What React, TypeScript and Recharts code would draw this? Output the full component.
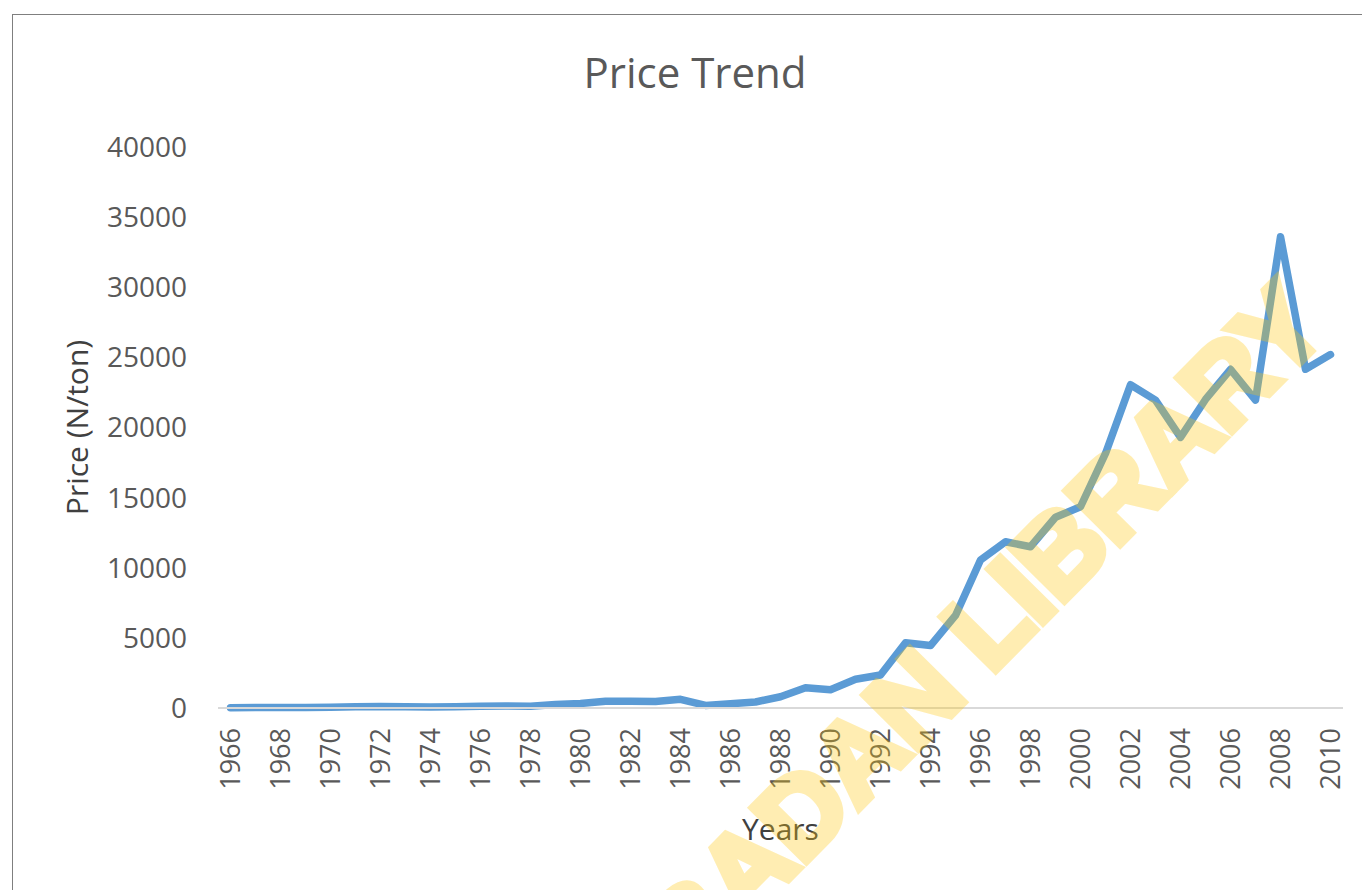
import { LineChart, Line, XAxis, YAxis } from "recharts";

const years = [
  1966, 1967, 1968, 1969, 1970, 1971, 1972, 1973, 1974, 1975, 1976, 1977, 1978,
  1979, 1980, 1981, 1982, 1983, 1984, 1985, 1986, 1987, 1988, 1989, 1990, 1991,
  1992, 1993, 1994, 1995, 1996, 1997, 1998, 1999, 2000, 2001, 2002, 2003, 2004,
  2005, 2006, 2007, 2008, 2009, 2010,
];

const prices = [
  20, 30, 30, 40, 50, 90, 110, 90, 80, 90, 130, 140, 130, 250, 320, 480, 490,
  470, 620, 180, 300, 430, 800, 1450, 1300, 2050, 2350, 4650, 4450, 6600, 10550,
  11850, 11500, 13600, 14350, 18150, 23050, 21950, 19300, 22000, 24150, 21950,
  33600, 24150, 25200,
];

const yTicks = [0, 5000, 10000, 15000, 20000, 25000, 30000, 35000, 40000];

const data = years.map((year, i) => ({ year, price: prices[i] }));

const font = "'Open Sans', sans-serif";

const YearTick = ({ x, y, payload }: any) => (
  <text
    x={x}
    y={y}
    transform={`rotate(-90, ${x}, ${y})`}
    textAnchor="end"
    dy="0.36em"
    fill="#595959"
    fontSize={27}
    fontFamily={font}
  >
    {payload.value}
  </text>
);

// axis title drawn centred on the plot height
const PriceLabel = ({ viewBox }: any) => {
  const cx = 77;
  const cy = viewBox.y + viewBox.height / 2;
  return (
    <text
      x={cx}
      y={cy}
      transform={`rotate(-90, ${cx}, ${cy})`}
      textAnchor="middle"
      dy="0.36em"
      fill="#404040"
      fontSize={30}
      fontFamily={font}
    >
      Price (N/ton)
    </text>
  );
};

export default function App() {
  return (
    <div
      style={{
        position: "fixed",
        left: 0,
        top: 0,
        width: 1362,
        height: 890,
        overflow: "hidden",
        background: "#fff",
      }}
    >
      <div
        style={{
          position: "absolute",
          left: 12,
          top: 14,
          width: 1400,
          height: 1000,
          borderTop: "1.5px solid #7f7f7f",
          borderLeft: "1.5px solid #7f7f7f",
        }}
      />
      <div
        style={{
          position: "absolute",
          left: 395,
          top: 43,
          width: 600,
          textAlign: "center",
          fontFamily: font,
          fontSize: 42,
          color: "#595959",
        }}
      >
        Price Trend
      </div>
      <div style={{ position: "absolute", left: 0, top: 0 }}>
        <LineChart
          width={1362}
          height={890}
          data={data}
          margin={{ top: 147, right: 19, bottom: 42, left: 0 }}
        >
          <XAxis
            dataKey="year"
            interval={1}
            padding={{ left: 12.5, right: 12.5 }}
            height={140}
            tickLine={false}
            tickSize={0}
            tickMargin={20}
            tick={<YearTick />}
            axisLine={{ stroke: "#d9d9d9", strokeWidth: 2 }}
            label={{
              value: "Years",
              position: "insideBottom",
              offset: 8,
              fill: "#404040",
              fontSize: 30,
              fontFamily: font,
            }}
          />
          <YAxis
            domain={[0, 40000]}
            ticks={yTicks}
            width={218}
            axisLine={false}
            tickLine={false}
            tickSize={0}
            tickMargin={31}
            tick={{ fill: "#595959", fontSize: 28, fontFamily: font }}
            label={{ content: <PriceLabel /> }}
          />
          <Line
            type="linear"
            dataKey="price"
            stroke="#5b9bd5"
            strokeWidth={7.5}
            strokeLinecap="round"
            strokeLinejoin="round"
            dot={false}
            isAnimationActive={false}
          />
        </LineChart>
      </div>
      <svg
        width={1362}
        height={890}
        style={{ position: "absolute", left: 0, top: 0, pointerEvents: "none" }}
      >
        <g opacity={0.31}>
          <text
            x={668}
            y={1001}
            transform="rotate(-45.3, 668, 1001)"
            fontFamily="'Liberation Sans', sans-serif"
            fontWeight="bold"
            fontSize={110}
            fill="rgb(255, 200, 10)"
            stroke="rgb(255, 200, 10)"
            strokeWidth={8}
          >
            IBADAN LIBRARY
          </text>
        </g>
      </svg>
    </div>
  );
}
